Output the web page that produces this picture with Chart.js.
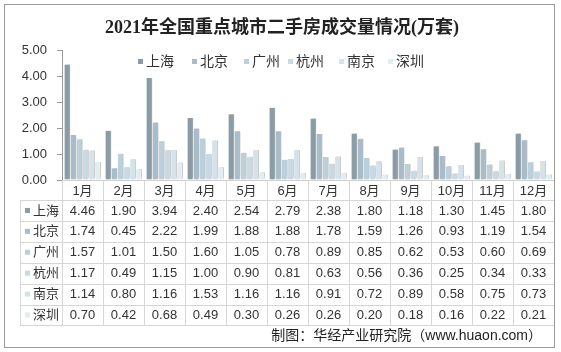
<!DOCTYPE html>
<html>
<head>
<meta charset="utf-8">
<script src="https://cdn.jsdelivr.net/npm/chart.js@4.4.1/dist/chart.umd.min.js"></script>
<style>
  html, body { margin: 0; padding: 0; background: #fff; }
  #wrap { width: 561px; height: 352px; position: relative; }
</style>
</head>
<body>
<div id="wrap"><canvas id="chart"></canvas></div>
<script>
// data
const months = ["1月", "2月", "3月", "4月", "5月", "6月", "7月", "8月", "9月", "10月", "11月", "12月"];
const cities = ["上海", "北京", "广州", "杭州", "南京", "深圳"];
const shanghai = [4.46, 1.90, 3.94, 2.40, 2.54, 2.79, 2.38, 1.80, 1.18, 1.30, 1.45, 1.80];
const beijing  = [1.74, 0.45, 2.22, 1.99, 1.88, 1.88, 1.78, 1.59, 1.26, 0.93, 1.19, 1.54];
const guangzhou = [1.57, 1.01, 1.50, 1.60, 1.05, 0.78, 0.89, 0.85, 0.62, 0.53, 0.60, 0.69];
const hangzhou = [1.17, 0.49, 1.15, 1.00, 0.90, 0.81, 0.63, 0.56, 0.36, 0.25, 0.34, 0.33];
const nanjing  = [1.14, 0.80, 1.16, 1.53, 1.16, 1.16, 0.91, 0.72, 0.89, 0.58, 0.75, 0.73];
const shenzhen = [0.70, 0.42, 0.68, 0.49, 0.30, 0.26, 0.26, 0.20, 0.18, 0.16, 0.22, 0.21];
const yTicks = ["0.00", "1.00", "2.00", "3.00", "4.00", "5.00"];

const seriesValues = [shanghai, beijing, guangzhou, hangzhou, nanjing, shenzhen];
const colors = ["#8a9ca5", "#a8bdc9", "#bcd0dc", "#c9d9e3", "#d5e2ea", "#e3ecf1"];

const sansFont = "'Liberation Sans', 'Noto Sans CJK SC', sans-serif";
const legendX = [138, 192, 244, 288, 339, 388];

// table, legend, frame and footer drawn on top of the chart
const tablePlugin = {
    id: "dataTable",
    beforeDatasetsDraw(chart) {
        const ctx = chart.ctx;
        ctx.save();
        ctx.shadowColor = "rgba(0,0,0,0.3)";
        ctx.shadowBlur = 3;
        ctx.shadowOffsetX = 2;
        ctx.shadowOffsetY = -1;
    },
    afterDatasetsDraw(chart) {
        chart.ctx.restore();
    },
    afterDraw(chart) {
        const ctx = chart.ctx;
        const x = chart.scales.x;
        const area = chart.chartArea;
        const colW = (area.right - area.left) / months.length;
        const headTop = area.bottom;
        const rowTop = 200;
        const rowH = 20.9;
        const tableBottom = rowTop + rowH * cities.length;
        const labelLeft = 20;

        ctx.save();
        ctx.strokeStyle = "#d6d6d6";
        ctx.lineWidth = 1;
        ctx.beginPath();
        // horizontal lines
        for (let r = 0; r <= cities.length; r++) {
            const y = Math.round(rowTop + r * rowH) + 0.5;
            ctx.moveTo(labelLeft, y);
            ctx.lineTo(area.right, y);
        }
        // vertical lines
        for (let c = 0; c <= months.length; c++) {
            const xx = Math.round(area.left + c * colW) + 0.5;
            ctx.moveTo(xx, headTop);
            ctx.lineTo(xx, tableBottom);
        }
        ctx.moveTo(labelLeft + 0.5, rowTop);
        ctx.lineTo(labelLeft + 0.5, tableBottom);
        ctx.stroke();

        ctx.fillStyle = "#333";
        ctx.font = "13px " + sansFont;
        ctx.textAlign = "center";
        ctx.textBaseline = "middle";
        months.forEach((m, i) => {
            ctx.fillText(m, x.getPixelForValue(i), (headTop + rowTop) / 2 + 1);
        });
        cities.forEach((city, r) => {
            const cy = rowTop + r * rowH + rowH / 2 + 0.5;
            ctx.fillStyle = colors[r];
            ctx.fillRect(labelLeft + 5, cy - 3, 5, 5);
            ctx.fillStyle = "#333";
            ctx.textAlign = "left";
            ctx.fillText(city, labelLeft + 13, cy);
            ctx.textAlign = "center";
            seriesValues[r].forEach((v, i) => {
                ctx.fillText(v.toFixed(2), x.getPixelForValue(i), cy);
            });
        });

        // legend
        ctx.font = "14px " + sansFont;
        ctx.textAlign = "left";
        cities.forEach((city, i) => {
            ctx.fillStyle = colors[i];
            ctx.fillRect(legendX[i], 59, 5, 5);
            ctx.fillStyle = "#333";
            ctx.fillText(city, legendX[i] + 8, 62);
        });

        // footer
        ctx.font = "14px " + sansFont;
        ctx.textAlign = "right";
        ctx.fillStyle = "#222";
        ctx.fillText("制图：华经产业研究院（www.huaon.com）", 542, 336);

        // outer frame
        ctx.strokeStyle = "#9a9a9a";
        ctx.strokeRect(4.5, 4.5, 550, 343);
        ctx.restore();
    }
};

new Chart(document.getElementById("chart"), {
    type: "bar",
    data: {
        labels: months,
        datasets: cities.map((city, i) => ({
            label: city,
            data: seriesValues[i],
            backgroundColor: colors[i],
            borderColor: "#ffffff",
            borderWidth: { left: 0.6, right: 0.6 },
            barPercentage: 1.0,
            categoryPercentage: 0.9
        }))
    },
    options: {
        responsive: true,
        maintainAspectRatio: false,
        animation: false,
        layout: { padding: { left: 10, right: 7, top: 0, bottom: 172 } },
        plugins: {
            legend: { display: false },
            tooltip: { enabled: false },
            title: {
                display: true,
                text: "2021年全国重点城市二手房成交量情况(万套)",
                color: "#222",
                font: { family: "'Liberation Serif', 'Noto Sans CJK SC', serif", size: 18, weight: "bold" },
                padding: { top: 18, bottom: 11 }
            }
        },
        scales: {
            x: {
                ticks: { display: false },
                grid: { display: false },
                border: { display: true, color: "#cfcfcf" },
                afterFit(scale) { scale.height = 0; }
            },
            y: {
                min: 0,
                max: 5,
                ticks: {
                    stepSize: 1,
                    padding: 10,
                    color: "#333",
                    font: { family: sansFont, size: 13 },
                    callback: (value) => yTicks[value]
                },
                grid: { drawOnChartArea: false, tickLength: 5, color: "#999" },
                border: { display: true, color: "#999" },
                afterFit(scale) { scale.width = 52; }
            }
        }
    },
    plugins: [tablePlugin]
});
</script>
</body>
</html>
